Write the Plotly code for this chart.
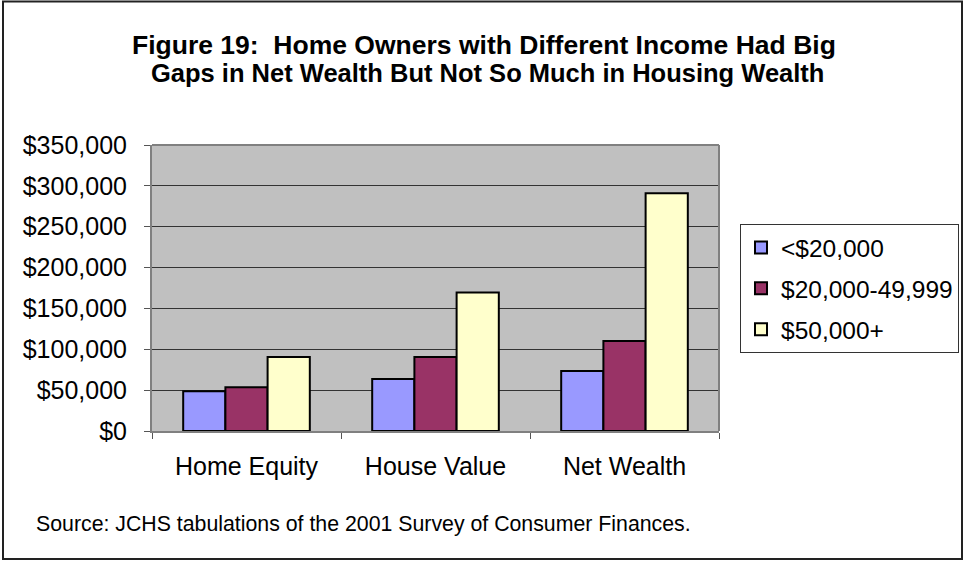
import plotly.graph_objects as go

categories = ["Home Equity", "House Value", "Net Wealth"]
series_names = ["<$20,000", "$20,000-49,999", "$50,000+"]
low_income = [48500, 63500, 73500]
mid_income = [53500, 90500, 110000]
high_income = [90500, 169500, 291000]
y_ticks = [0, 50000, 100000, 150000, 200000, 250000, 300000, 350000]
y_tick_labels = ["$0", "$50,000", "$100,000", "$150,000", "$200,000", "$250,000", "$300,000", "$350,000"]
title_lines = ["Figure 19:  Home Owners with Different Income Had Big",
               "Gaps in Net Wealth But Not So Much in Housing Wealth"]
source_text = "Source: JCHS tabulations of the 2001 Survey of Consumer Finances."

colors = ["#9999FF", "#993366", "#FFFFCC"]
W, H = 965, 561
L, R, T, B = 152, 719, 145, 431

fig = go.Figure()
for i, (name, vals, c) in enumerate(zip(series_names, [low_income, mid_income, high_income], colors)):
    fig.add_trace(go.Bar(x=categories, y=vals, name=name, legendgroup=f"g{i}",
                         marker=dict(color=c, line=dict(color="black", width=2))))

def px_x(p):
    return (p - L) / (R - L)

def px_y(p):
    return (B - p) / (B - T)

annotations = [
    dict(text=f"<b>{title_lines[0]}</b>", xref="paper", yref="paper", x=px_x(484), y=px_y(45),
         xanchor="center", yanchor="middle", showarrow=False, font=dict(size=26.5)),
    dict(text=f"<b>{title_lines[1]}</b>", xref="paper", yref="paper", x=px_x(487), y=px_y(73),
         xanchor="center", yanchor="middle", showarrow=False, font=dict(size=25.5)),
    dict(text=source_text, xref="paper", yref="paper",
         x=px_x(34), y=px_y(524), xanchor="left", yanchor="middle", showarrow=False, font=dict(size=21.3)),
]

fig.update_layout(
    width=W, height=H,
    margin=dict(l=L, r=W - R, t=T, b=H - B, autoexpand=False),
    paper_bgcolor="white", plot_bgcolor="#C0C0C0",
    font=dict(family="Liberation Sans, Arial, sans-serif", color="black", size=25),
    barmode="group", bargap=0.33, bargroupgap=0,
    showlegend=True,
    legend=dict(xref="container", yref="container", x=740 / W, y=1 - 224 / H,
                xanchor="left", yanchor="top",
                bordercolor="#333333", borderwidth=1, bgcolor="white",
                font=dict(size=24.5), itemsizing="constant", tracegroupgap=6,
                traceorder="grouped", itemwidth=30),
    xaxis=dict(showline=True, linecolor="#808080", linewidth=2, ticks="outside", tickson="boundaries",
               ticklen=6, tickcolor="#555555", tickwidth=1, tickfont=dict(size=25), showgrid=False,
               ticklabelstandoff=12),
    yaxis=dict(range=[0, 350000], tickvals=y_ticks, ticktext=y_tick_labels, showline=True,
               linecolor="#808080", linewidth=2, ticks="outside", ticklen=6, tickcolor="#555555",
               tickwidth=1, showgrid=True, gridcolor="#333333", gridwidth=1, zeroline=False,
               tickfont=dict(size=25), ticklabelstandoff=12),
    shapes=[
        dict(type="rect", xref="paper", yref="paper", x0=px_x(3), x1=px_x(962), y0=px_y(1.5), y1=px_y(559),
             line=dict(color="#222222", width=2), fillcolor="rgba(0,0,0,0)", layer="below"),
        dict(type="line", xref="paper", yref="paper", x0=0, x1=1, y0=1, y1=1, line=dict(color="#808080", width=2)),
        dict(type="line", xref="paper", yref="paper", x0=1, x1=1, y0=0, y1=1, line=dict(color="#808080", width=2)),
    ],
    annotations=annotations,
)
fig.write_html(
    "out.html",
    config={"displayModeBar": False, "responsive": False},
    post_script=("document.documentElement.style.overflow='hidden';"
                 "document.body.style.overflow='hidden';"
                 "document.body.style.margin='0px';document.body.style.padding='0px';"),
)
